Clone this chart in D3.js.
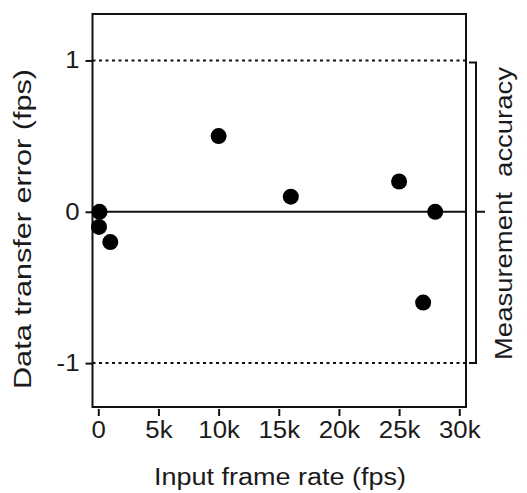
<!DOCTYPE html>
<html>
<head>
<meta charset="utf-8">
<script src="https://cdn.jsdelivr.net/npm/d3@7"></script>
<style>
  body { margin: 0; background: #fff; }
  text { font-family: Arial, "Liberation Sans", sans-serif; fill: #1a1a1a; }
</style>
</head>
<body>
<div id="chart"></div>
<script>
// input frame rate (fps) vs data transfer error (fps)
const frameRates = [100, 60, 1000, 10000, 16000, 25000, 27000, 28000];
const transferErrors = [0, -0.1, -0.2, 0.5, 0.1, 0.2, -0.6, 0];
const xTicks = [0, 5000, 10000, 15000, 20000, 25000, 30000];
const xTickLabels = ["0", "5k", "10k", "15k", "20k", "25k", "30k"];
const yTicks = [-1, 0, 1];
const yTickLabels = ["-1", "0", "1"];
const accuracyBand = [-1, 1];

const width = 527, height = 493;

const svg = d3.select('#chart')
    .append('svg')
    .attr('width', width)
    .attr('height', height);

const x = d3.scaleLinear().domain([-480, 30560]).range([92.5, 466]);
const y = d3.scaleLinear().domain([-1.29, 1.307]).range([407, 14]);

// the source text is a bit wider than Arial, stretch it
function widen(sel, k) {
    sel.each(function() {
        const w = this.getComputedTextLength();
        d3.select(this)
            .attr('textLength', w * k)
            .attr('lengthAdjust', 'spacingAndGlyphs');
    });
}

// dotted limits at +/-1
svg.selectAll('line.limit')
    .data(accuracyBand)
    .enter().append('line')
    .attr('class', 'limit')
    .attr('x1', x.range()[0]).attr('x2', x.range()[1])
    .attr('y1', d => y(d)).attr('y2', d => y(d))
    .style('stroke', '#111')
    .style('stroke-width', 2)
    .style('stroke-dasharray', '3,3.5');

// zero line
svg.append('line')
    .attr('x1', x.range()[0]).attr('x2', x.range()[1])
    .attr('y1', y(0)).attr('y2', y(0))
    .style('stroke', '#111')
    .style('stroke-width', 2);

// frame
svg.append('rect')
    .attr('x', x.range()[0]).attr('y', y.range()[1])
    .attr('width', x.range()[1] - x.range()[0])
    .attr('height', y.range()[0] - y.range()[1])
    .style('fill', 'none')
    .style('stroke', '#111')
    .style('stroke-width', 2);

// x axis, ticks sit a little below the frame
const xAxis = d3.axisBottom(x)
    .tickValues(xTicks)
    .tickFormat((d, i) => xTickLabels[i])
    .tickSize(7)
    .tickSizeOuter(0)
    .tickPadding(6);
const gx = svg.append('g')
    .attr('transform', 'translate(0,409)')
    .call(xAxis);
gx.select('.domain').remove();
gx.selectAll('.tick line').style('stroke', '#111').style('stroke-width', 2);
gx.selectAll('.tick text')
    .style('font-size', '23px')
    .style('fill', '#1a1a1a')
    .call(widen, 1.12);

// y axis on the frame
const yAxis = d3.axisLeft(y)
    .tickValues(yTicks)
    .tickFormat((d, i) => yTickLabels[i])
    .tickSize(7)
    .tickPadding(6);
const gy = svg.append('g')
    .attr('transform', 'translate(' + x.range()[0] + ',0)')
    .call(yAxis);
gy.select('.domain').remove();
gy.selectAll('.tick line').style('stroke', '#111').style('stroke-width', 2);
gy.selectAll('.tick text')
    .style('font-size', '23px')
    .style('fill', '#1a1a1a')
    .call(widen, 1.12);

// points
svg.selectAll('circle.pt')
    .data(frameRates)
    .enter().append('circle')
    .attr('class', 'pt')
    .attr('cx', d => x(d))
    .attr('cy', (d, i) => y(transferErrors[i]))
    .attr('r', 8)
    .style('fill', '#000');

// bracket for measurement accuracy
const bx = 476;
const bracket = d3.path();
bracket.moveTo(bx - 7, y(accuracyBand[1]) + 2);
bracket.lineTo(bx, y(accuracyBand[1]) + 2);
bracket.lineTo(bx, y(accuracyBand[0]));
bracket.lineTo(bx - 7, y(accuracyBand[0]));
bracket.moveTo(bx, y(0));
bracket.lineTo(bx + 9, y(0));
svg.append('path')
    .attr('d', bracket.toString())
    .style('fill', 'none')
    .style('stroke', '#111')
    .style('stroke-width', 2);

// titles
svg.append('text')
    .attr('x', 280)
    .attr('y', 485)
    .attr('text-anchor', 'middle')
    .attr('textLength', 252)
    .attr('lengthAdjust', 'spacingAndGlyphs')
    .style('font-size', '23px')
    .text('Input frame rate (fps)');

svg.append('text')
    .attr('transform', 'translate(31,229) rotate(-90)')
    .attr('text-anchor', 'middle')
    .attr('textLength', 320)
    .attr('lengthAdjust', 'spacingAndGlyphs')
    .style('font-size', '23px')
    .text('Data transfer error (fps)');

svg.append('text')
    .attr('transform', 'translate(512,213.5) rotate(-90)')
    .attr('text-anchor', 'middle')
    .attr('textLength', 293)
    .attr('lengthAdjust', 'spacingAndGlyphs')
    .style('font-size', '23px')
    .style('white-space', 'pre')
    .text('Measurement  accuracy');
</script>
</body>
</html>
